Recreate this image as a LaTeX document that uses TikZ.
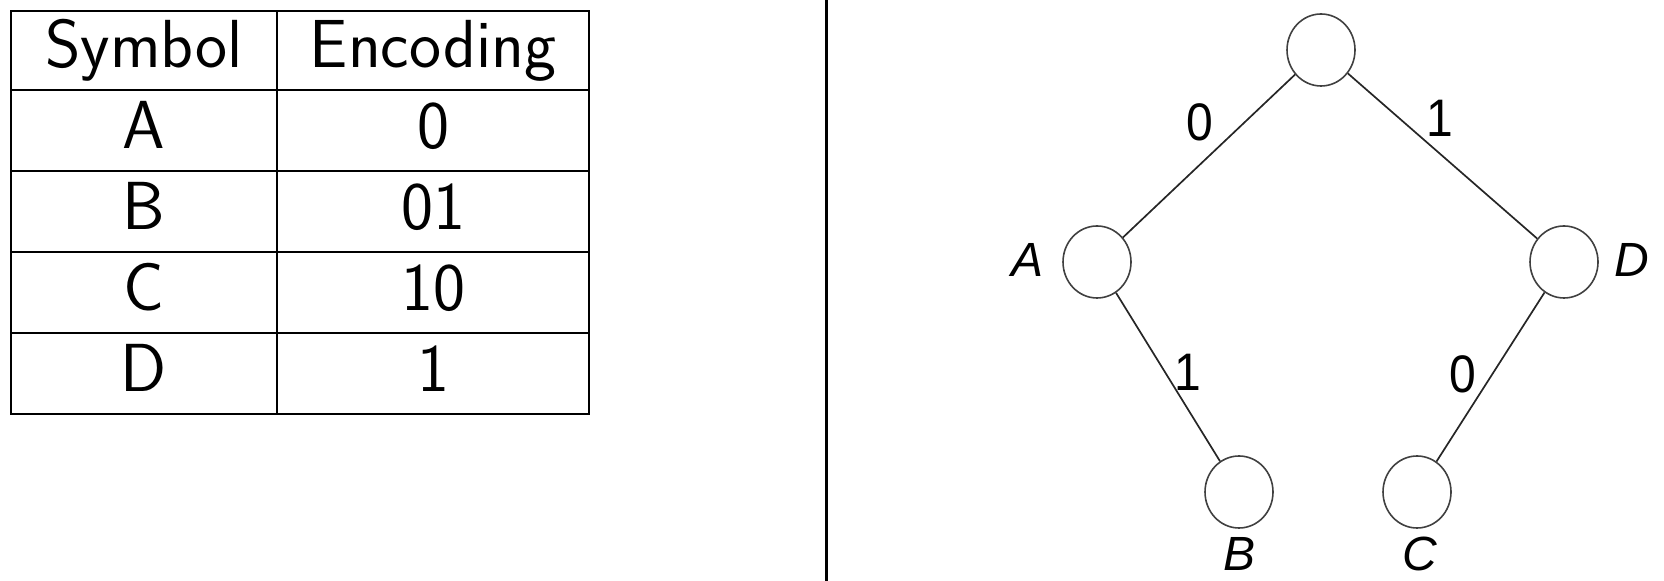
\documentclass[tikz,border=0pt]{standalone}
\usepackage{fontspec}
\usetikzlibrary{shapes.geometric}
\newfontfamily\arialfont{Liberation Sans}
\begin{document}
\begin{tikzpicture}[x=0.5pt,y=-0.5pt,
  tline/.style={line width=1.1pt,black},
  ttext/.style={font=\sffamily\fontsize{34}{40}\selectfont,anchor=base,inner sep=0pt},
  tnode/.style={ellipse,draw=black!75,line width=0.8pt,minimum width=34pt,minimum height=36pt,inner sep=0pt},
  tedge/.style={draw=black!85,line width=0.85pt},
  tlab/.style={font=\arialfont\fontsize{24}{28}\selectfont,inner sep=0pt},
]
\useasboundingbox (0,0) rectangle (1664,581);
% table
\draw[tline] (11,11) rectangle (589,414);
\draw[tline] (277,11) -- (277,414);
\foreach \y in {90,171,252,333} \draw[tline] (11,\y) -- (589,\y);
\node[ttext] (h1) at (144,68) {Symbol};
\node[ttext] (h2) at (433,68) {Encoding};
\node[ttext] (sA) at (144,149) {A};
\node[ttext] (eA) at (433,149) {0};
\node[ttext] (sB) at (144,230) {B};
\node[ttext] (eB) at (433,230) {01};
\node[ttext] (sC) at (144,311) {C};
\node[ttext] (eC) at (433,311) {10};
\node[ttext] (sD) at (144,392) {D};
\node[ttext] (eD) at (433,392) {1};
% divider
\draw[line width=1.5pt] (826,0) -- (826,581);
% tree
\node[tnode] (r) at (1321,50) {};
\node[tnode] (a) at (1097,262) {};
\node[tnode] (d) at (1564,262) {};
\node[tnode] (b) at (1239,492) {};
\node[tnode] (c) at (1417,492) {};
\draw[tedge] (r) -- (a);
\draw[tedge] (r) -- (d);
\draw[tedge] (a) -- (b);
\draw[tedge] (d) -- (c);
\node[tlab,yscale=1.1] (l0) at (1200,122) {0};
\node[tlab,yscale=1.1] (l1) at (1440,118) {1};
\node[tlab,yscale=1.1] (l2) at (1188,372) {1};
\node[tlab,yscale=1.1] (l3) at (1463,374) {0};
\node[tlab] (la) at (1027,260) {\itshape A};
\node[tlab] (ld) at (1632,260) {\itshape D};
\node[tlab] (lb) at (1239,554) {\itshape B};
\node[tlab] (lc) at (1420,554) {\itshape C};
\end{tikzpicture}
\end{document}
